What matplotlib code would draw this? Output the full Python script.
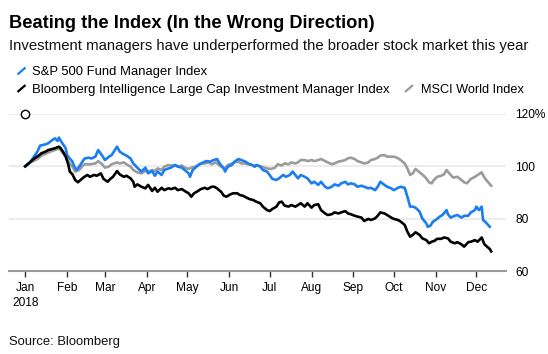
import numpy as np
import matplotlib
matplotlib.use("Agg")
import matplotlib.pyplot as plt
from matplotlib.lines import Line2D

plt.rcParams['font.family'] = ['Liberation Sans', 'DejaVu Sans']

# ---------------- data (days since 2018-01-01, index level) ----------------
spx_days = [0, 4, 9, 11, 15, 17, 20, 22, 24, 25, 27, 30, 31, 33, 35, 36, 38, 40, 42, 44, 47, 49, 52, 54, 57, 59,
            62, 64, 68, 70, 73, 75, 78, 80, 83,
            86, 89, 91, 94, 96, 98, 101, 103, 106, 108, 111, 113, 116, 118, 121, 122, 124, 127, 129, 132, 134, 137,
            139, 142, 144, 147, 148, 150, 153, 155, 158, 160, 163, 165, 168, 170,
            171, 174, 176, 179, 181, 183, 186, 188, 191, 193, 196, 198, 200, 202, 204, 207, 209, 212, 214, 217, 219,
            222, 224, 227, 229, 232, 234, 237, 239, 241, 244, 246, 249, 251, 254, 256,
            259, 261, 263, 266, 268, 271, 273, 276, 278, 281, 283, 285, 287, 289, 292, 294, 297, 298, 300, 302, 304,
            307, 309, 312, 313, 315, 318, 320, 323, 325, 328, 330, 333, 334, 336, 338, 339, 341, 344]
spx_vals = [100, 101.8, 105.6, 107.9, 108.4, 108.8, 110, 110.7, 109.7, 111, 109.2, 106.9, 104.3, 103, 101.8, 100.3,
            98.6, 99.9, 101.5, 103, 103.3, 103, 103.7, 106.2, 104.1, 102.4, 103.7, 104.3, 107.5, 105.6, 104.6, 104.1,
            103, 101.1, 99.5,
            98, 99.5, 97.3, 98.2, 96.4, 98, 96.7, 98.6, 99.2, 99.5, 100.5, 99.9, 99.5, 98.6, 97.3, 96, 98.6, 99.9,
            100.8, 101.5, 102, 101.8, 102.3, 102.8, 101.1, 99.2, 98, 99.9, 100.5, 101.8, 102.8, 102.4, 101.8, 101.1,
            100.5, 99.9,
            100.5, 99.9, 98.6, 98, 96.7, 95.2, 94.8, 95.4, 96.7, 96, 96.7, 98, 96.7, 95.4, 96.7, 96, 95.4, 93.5, 94.1,
            92.9, 94.1, 92.2, 91.6, 92.2, 93.1, 92.6, 93.5, 94.1, 93.1, 93.5, 93.1, 92.2, 92.6, 92.2, 91.6, 91.8,
            90.9, 92.2, 94.1, 92.9, 92.2, 91.6, 90.9, 91.8, 92.2, 91.8, 88.4, 84.6, 84.6, 84.2, 82.7, 80.1, 78.2,
            76.9, 77.3, 78.9, 79.5, 80.8, 81.4, 83.3, 81.7, 80.4, 81.1, 81.4, 80.4, 81.1, 81.1, 82.4, 83.3, 84.6,
            83.3, 84.6, 79.5, 78.6, 76.9]

bi_days = [0, 4, 7, 10, 12, 15, 17, 20, 22, 25, 26, 28, 30, 32, 33, 35, 37, 39, 41, 43, 46, 48, 51, 53, 56, 58,
           61, 63, 65, 68, 70, 73, 75, 78, 80, 81, 83,
           86, 89, 91, 94, 96, 98, 101, 103, 106, 108, 111, 113, 116, 118, 121, 123, 125, 128, 130, 133, 135, 138,
           140, 142, 145, 147, 149, 152, 154, 157, 159, 161, 164, 166, 169,
           171, 174, 176, 179, 181, 183, 186, 188, 190, 192, 195, 197, 200, 202, 204, 207, 209, 212, 214, 217, 219,
           222, 224, 227, 229, 232, 234, 237, 239, 241, 244, 246, 249, 251, 254, 256,
           259, 261, 263, 266, 268, 271, 273, 276, 278, 281, 283, 285, 287, 289, 292, 294, 297, 299, 301, 303, 305,
           308, 310, 313, 315, 318, 320, 323, 325, 328, 330, 333, 335, 338, 340, 342, 344, 345]
bi_vals = [100, 101.8, 103.1, 104.1, 105, 105.6, 106.2, 106.6, 106.9, 107.5, 107.1, 105.6, 103.7, 100.5, 98, 96.9,
           94.8, 93.9, 94.8, 95.7, 96.7, 96, 96.7, 96.4, 97.3, 95.2, 94.1, 95.2, 96, 98.2, 96.9, 96, 96.4, 95.4, 94.1,
           92.2, 93.1,
           92.2, 91.6, 92.9, 90.6, 91.8, 90.3, 91.8, 90.9, 91.6, 91.3, 91.8, 90.9, 91.3, 90.6, 89.7, 88.4, 89.7, 90.6,
           91.3, 91.8, 91.3, 92.2, 92.2, 91.6, 90.3, 88.8, 88.4, 89.3, 89.7, 89.7, 89, 88.8, 88, 87.5, 87.1,
           86.5, 85.9, 84.6, 83.3, 82.9, 83.7, 84.6, 86.2, 86.5, 85, 84.6, 85.2, 84.6, 85.2, 85.9, 84.6, 85.9, 84.2,
           85.2, 85.5, 83.3, 82, 81.4, 81.7, 82.4, 82, 82.4, 82.9, 82, 81.7, 81.1, 80.8, 80.4, 79.1, 79.9, 79.5,
           80.1, 81.1, 82.4, 82, 81.4, 80.4, 79.9, 79.5, 78.9, 77.6, 75, 73.1, 73.8, 74.8, 73.8, 72.5, 71.8, 70.6,
           71.2, 71.5, 72.3, 72.3, 72.8, 72.5, 71.2, 70.6, 71, 70.2, 69.3, 71, 71.2, 71.8, 71.2, 72.8, 70.2, 69.3,
           68.4, 67.5]

msci_days = [0, 4, 9, 12, 16, 20, 24, 25, 27, 30, 32, 35, 37, 40, 42, 44, 48, 52, 54, 57, 59, 62, 64, 68, 70, 73,
             75, 78, 80, 83,
             86, 89, 91, 94, 96, 98, 101, 103, 106, 108, 111, 113, 116, 118, 121, 123, 126, 128, 131, 133, 136, 138,
             141, 143, 145, 148, 150, 153, 155, 158, 160, 163, 165, 168, 170,
             171, 175, 179, 182, 185, 187, 190, 192, 195, 197, 200, 202, 204, 207, 209, 212, 214, 217, 219, 222, 224,
             227, 229, 232, 234, 237, 239, 241, 244, 246, 249, 251, 254, 256,
             259, 261, 263, 266, 268, 271, 273, 276, 278, 281, 283, 285, 287, 289, 292, 294, 297, 299, 301, 302, 305,
             308, 310, 312, 315, 317, 320, 322, 325, 327, 330, 333, 335, 338, 340, 342, 345]
msci_vals = [100, 101.5, 102.8, 104.1, 105, 105.9, 106.6, 107.1, 105.6, 103.7, 101.8, 99.9, 98, 98.6, 99.9, 100.8,
             100.8, 101.1, 102, 100.8, 99.5, 99.9, 100.8, 101.5, 101.1, 101.5, 100.8, 99.9, 98.6, 97.7,
             97.3, 98.2, 98, 98.6, 98.2, 99.2, 98.6, 99.9, 100.5, 100.3, 100.5, 99.9, 100.3, 99.5, 99, 99.5, 99.9,
             100.5, 101.1, 101.1, 101.5, 100.8, 101.5, 100.8, 99.9, 99.2, 100.5, 101.1, 101.5, 101.8, 101.1, 101.1,
             100.8, 100.5, 99.9,
             100.5, 99.9, 99.2, 99, 99.5, 100.8, 100.3, 101.1, 100.8, 101.5, 101.1, 101.5, 102.4, 102.4, 102, 102.4,
             102, 102.4, 102.8, 102, 101.5, 100.8, 101.1, 101.8, 102, 102.4, 103.1, 103.3, 102.8, 102, 101.5, 101.1,
             101.5, 102.4,
             102.8, 103.3, 104.1, 104.3, 103.7, 103.7, 103.7, 103.1, 102.4, 101.1, 99.2, 96.7, 97.3, 99, 97.7, 96.9,
             95.4, 93.9, 93.5, 94.4, 96, 96.4, 96.9, 98.6, 96.7, 95.7, 96, 95.2, 93.9, 93.5, 95.2, 96, 96.7, 97.7,
             95.7, 94.4, 92.6]

month_starts = ['2018-01-01', '2018-02-01', '2018-03-01', '2018-04-01', '2018-05-01', '2018-06-01',
                '2018-07-01', '2018-08-01', '2018-09-01', '2018-10-01', '2018-11-01', '2018-12-01']
month_labels = ['Jan\n2018', 'Feb', 'Mar', 'Apr', 'May', 'Jun', 'Jul', 'Aug', 'Sep', 'Oct', 'Nov', 'Dec']
y_ticks = [60, 80, 100, 120]
y_labels = ['60', '80', '100', '120%']

series_names = ['S&P 500 Fund Manager Index',
                'Bloomberg Intelligence Large Cap Investment Manager Index',
                'MSCI World Index']
colors = ['#1a7df2', '#000000', '#9b9b9b']

title = 'Beating the Index (In the Wrong Direction)'
subtitle = 'Investment managers have underperformed the broader stock market this year'
source = 'Source: Bloomberg'

# ---------------- figure ----------------
W, H = 548, 354
fig = plt.figure(figsize=(W / 100, H / 100), dpi=100)
fig.patch.set_facecolor('white')


def fy(y):
    return 1 - y / H


def fx(x):
    return x / W


ax_l, ax_r, ax_t, ax_b = 9, 506, 114, 271
ax = fig.add_axes([fx(ax_l), fy(ax_b), fx(ax_r - ax_l), (ax_b - ax_t) / H])

base = np.datetime64('2018-01-01')


def to_dates(days):
    return base + np.array(days).astype('timedelta64[D]')


for days, vals, col, z in [(msci_days, msci_vals, colors[2], 2),
                           (spx_days, spx_vals, colors[0], 3),
                           (bi_days, bi_vals, colors[1], 4)]:
    ax.plot(to_dates(days), vals, color=col, lw=1.9, zorder=z, solid_joinstyle='round')

# start marker
ax.plot([base], [120], marker='o', ms=6, mfc='white', mec='black', mew=1.0, clip_on=False, zorder=6)

ax.set_xlim(np.datetime64('2017-12-20'), np.datetime64('2018-12-23'))
ax.set_ylim(60, 120)

ax.set_xticks(np.array(month_starts, dtype='datetime64[D]'))
ax.set_xticklabels(month_labels)
ax.tick_params(axis='x', length=4, width=1, color='#333333', pad=4, labelsize=8.6, labelcolor='#000000')
for lab in ax.get_xticklabels():
    lab.set_linespacing(1.35)

ax.yaxis.tick_right()
ax.set_yticks(y_ticks)
ax.set_yticklabels(y_labels)
ax.tick_params(axis='y', length=0, pad=6.5, labelsize=8.6, labelcolor='#000000')
for lab in ax.get_yticklabels():
    lab.set_horizontalalignment('left')

ax.grid(axis='y', color='#e9e9e9', lw=1.2, zorder=0)
ax.set_axisbelow(True)
for s in ['top', 'left', 'right']:
    ax.spines[s].set_visible(False)
ax.spines['bottom'].set_color('#999999')
ax.spines['bottom'].set_linewidth(1.5)
ax.patch.set_alpha(0)

renderer = fig.canvas.get_renderer()


def fit(t, target_w):
    w = t.get_window_extent(renderer).width
    t.set_fontsize(t.get_fontsize() * target_w / w)


t1 = fig.text(fx(9.4), fy(27.8), title, fontsize=13, fontweight='bold', ha='left', va='baseline')
fit(t1, 364)
t2 = fig.text(fx(9.4), fy(49.8), subtitle, fontsize=10.8, ha='left', va='baseline', color='#111111')
fit(t2, 521)

l1 = fig.text(fx(32.4), fy(75.2), series_names[0], fontsize=9.3, ha='left', va='baseline')
fit(l1, 174)
l2 = fig.text(fx(32.4), fy(92.7), series_names[1], fontsize=9.3, ha='left', va='baseline')
fit(l2, 355)
l3 = fig.text(fx(421), fy(92.7), series_names[2], fontsize=9.3, ha='left', va='baseline')
fit(l3, 103)

for (x0, y0), col in [((17.5, 74.5), colors[0]), ((17.5, 92), colors[1]), ((405, 92), colors[2])]:
    fig.add_artist(Line2D([fx(x0), fx(x0 + 8)], [fy(y0), fy(y0 - 7)], color=col, lw=1.6,
                          transform=fig.transFigure, solid_capstyle='butt'))

src = fig.text(fx(9.4), fy(344.5), source, fontsize=9.3, ha='left', va='baseline', color='#111111')
fit(src, 110.8)

fig.savefig('out.png', dpi=100, facecolor='white')
